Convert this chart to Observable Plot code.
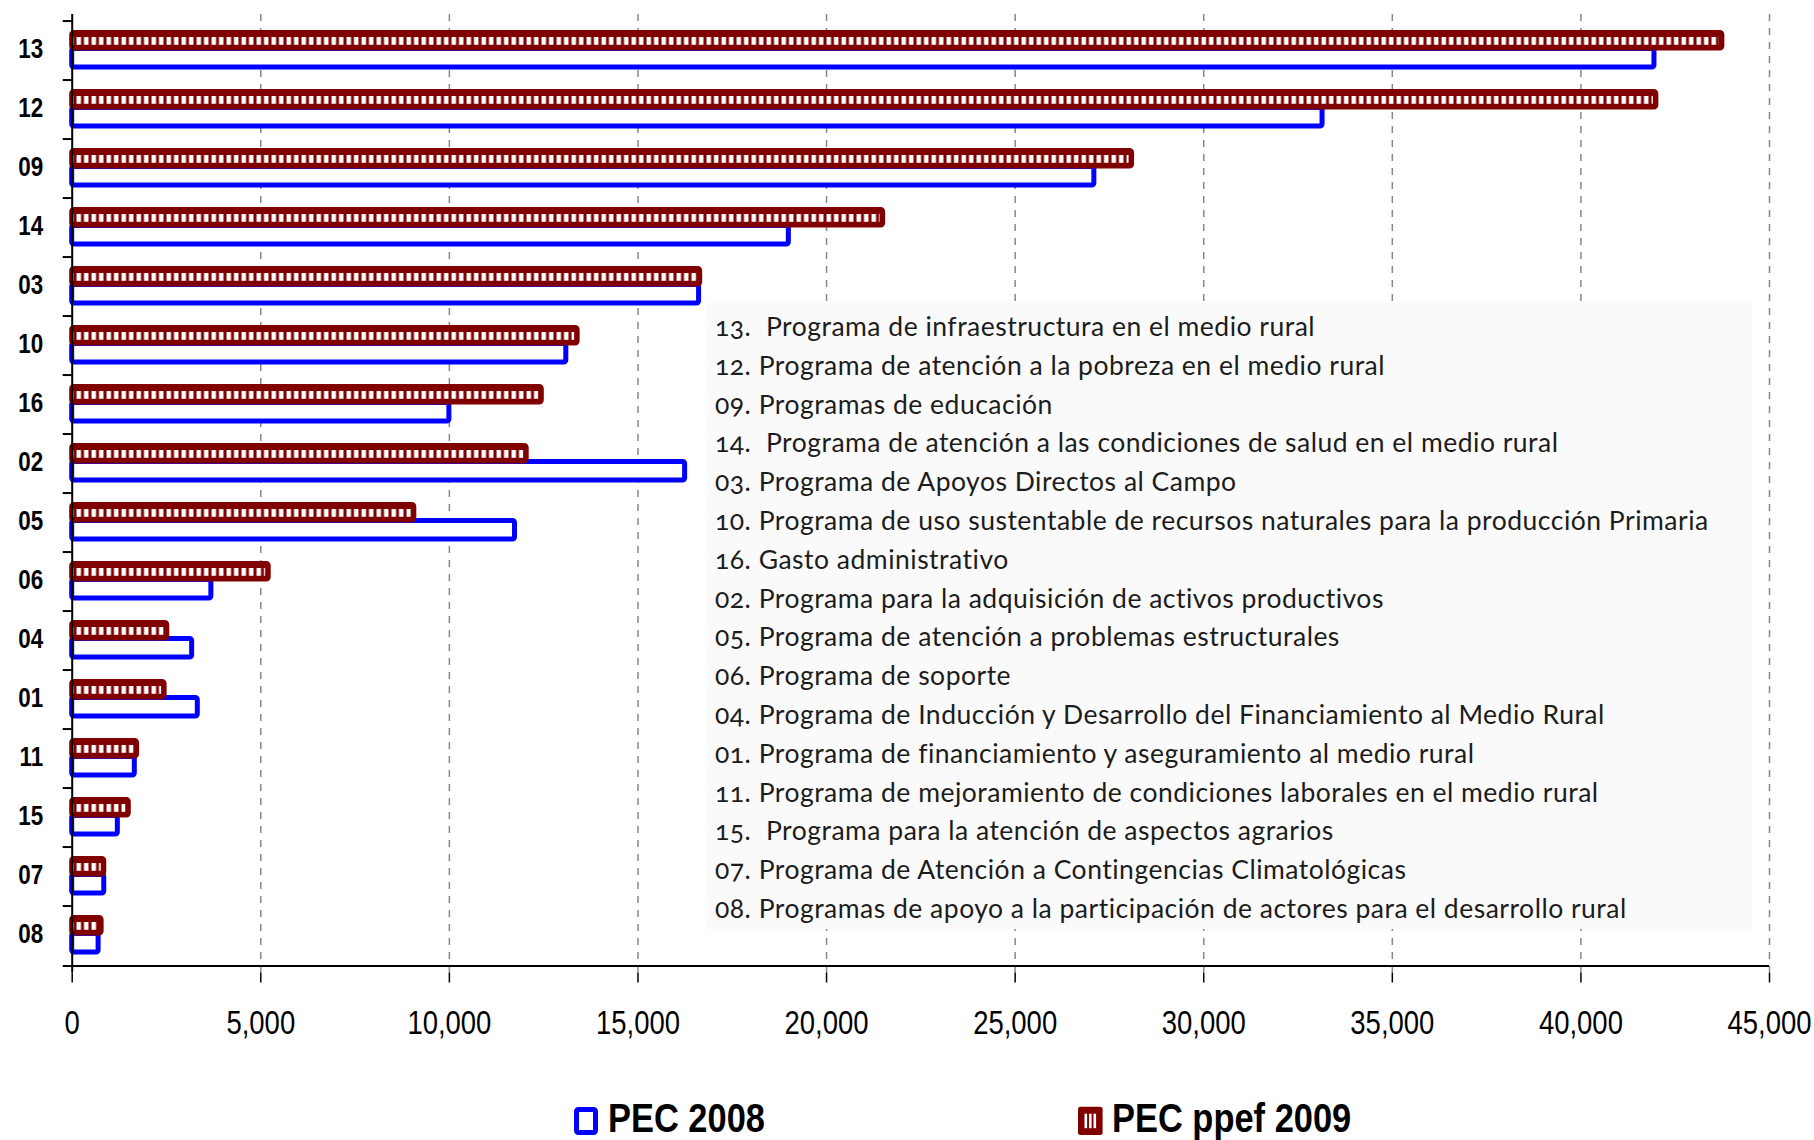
<!DOCTYPE html>
<html><head><meta charset="utf-8">
<script src="https://cdn.jsdelivr.net/npm/d3@7"></script>
<script src="https://cdn.jsdelivr.net/npm/@observablehq/plot@0.6"></script>
<style>
html,body{margin:0;padding:0;background:#fff;}
#wrap{position:relative;width:1814px;height:1140px;overflow:hidden;}
#chart svg{display:block;}
#notes{position:absolute;left:707px;top:303px;width:1045px;height:626px;background:#fafafa;box-sizing:border-box;padding:4px 0 0 8px;font-family:Lato,"Open Sans",sans-serif;font-size:26.5px;letter-spacing:0.5px;line-height:38.8px;color:#1c1c1c;white-space:pre;font-variant-numeric:oldstyle-nums;}
#legend{display:block;}
</style></head><body>
<div id="wrap"><div id="chart"></div><div id="notes"></div><svg id="legend" width="1814" height="80"></svg></div>
<script>
// ---- data ----
const categories = ["13","12","09","14","03","10","16","02","05","06","04","01","11","15","07","08"];
const pec2008  = [41950, 33150, 27100, 19000, 16620, 13100, 10000, 16250, 11740, 3690, 3180, 3330, 1660, 1210, 850, 700];
const ppef2009 = [43750, 42000, 28100, 21500, 16650, 13400, 12450, 12050, 9070, 5210, 2520, 2450, 1720, 1500, 850, 780];
const xTicks = [0, 5000, 10000, 15000, 20000, 25000, 30000, 35000, 40000, 45000];
const gridTicks = [5000, 10000, 15000, 20000, 25000, 30000, 35000, 40000, 45000];
const seriesNames = ["PEC 2008", "PEC ppef 2009"];
const notes = [
  "13.  Programa de infraestructura en el medio rural",
  "12. Programa de atención a la pobreza en el medio rural",
  "09. Programas de educación",
  "14.  Programa de atención a las condiciones de salud en el medio rural",
  "03. Programa de Apoyos Directos al Campo",
  "10. Programa de uso sustentable de recursos naturales para la producción Primaria",
  "16. Gasto administrativo",
  "02. Programa para la adquisición de activos productivos",
  "05. Programa de atención a problemas estructurales",
  "06. Programa de soporte",
  "04. Programa de Inducción y Desarrollo del Financiamiento al Medio Rural",
  "01. Programa de financiamiento y aseguramiento al medio rural",
  "11. Programa de mejoramiento de condiciones laborales en el medio rural",
  "15.  Programa para la atención de aspectos agrarios",
  "07. Programa de Atención a Contingencias Climatológicas",
  "08. Programas de apoyo a la participación de actores para el desarrollo rural"
];

const table = categories.map((c, i) => ({code: c, pec2008: pec2008[i], ppef2009: ppef2009[i]}));

const sans = "'Liberation Sans',Arial,sans-serif";
const W = 1814, H = 1060, mT = 14, mB = 87.5, mL = 71.7, mR = 45;
const bw = (H - mT - mB) / categories.length;
const BLUE = "#0000ff", RED = "#800000";

const svg = Plot.plot({
  width: W, height: H,
  marginTop: mT, marginBottom: mB, marginLeft: mL, marginRight: mR,
  style: {fontFamily: sans, fontSize: "33.5px", color: "#000", background: "#fff", overflow: "visible"},
  x: {domain: [0, 45000]},
  y: {domain: categories, padding: 0},
  marks: [
    Plot.ruleX(gridTicks, {stroke: "#888", strokeWidth: 1.5, strokeDasharray: "7,7"}),
    Plot.barX(table, {x: "pec2008", y: "code", insetTop: 27.5, insetBottom: bw - 47, fill: "#fff", stroke: BLUE, strokeWidth: 5, rx: 2}),
    Plot.barX(table, {x: "ppef2009", y: "code", insetTop: 11.5, insetBottom: bw - 28, fill: RED, stroke: RED, strokeWidth: 5, strokeLinejoin: "round", rx: 2}),
    Plot.barX(table, {x: "ppef2009", y: "code", insetTop: 16, insetBottom: bw - 24.7, insetLeft: 1.5, insetRight: 3, fill: "url(#stripes)"}),
    Plot.ruleX([0], {stroke: "#000", strokeWidth: 2}),
    Plot.ruleY(categories, {x1: 0, x2: 0, insetLeft: -9, dy: -bw / 2, stroke: "#000", strokeWidth: 2}),
    Plot.ruleY([categories[categories.length - 1]], {insetLeft: -9, dy: bw / 2, stroke: "#000", strokeWidth: 2}),
    Plot.axisY({tickSize: 0, tickPadding: 29, fontWeight: "bold", fontSize: 28, dy: -2, label: null}),
    Plot.axisX({ticks: xTicks, tickSize: 10, tickPadding: 27.5, tickFormat: d3.format(","), label: null, stroke: "#000", strokeWidth: 1.5})
  ]
});

const defs = d3.select(svg).insert("defs", ":first-child");
const pat = defs.append("pattern").attr("id", "stripes").attr("patternUnits", "userSpaceOnUse").attr("width", 7.5).attr("height", 60);
pat.append("rect").attr("x", 1.5).attr("y", 0).attr("width", 4.5).attr("height", 60).attr("fill", "#fff");

document.getElementById("chart").appendChild(svg);
document.getElementById("notes").textContent = notes.join("\n");

// condensed look (Arial Narrow-like): horizontal scale around each text's anchor point
function condense(sel, k) {
  sel.each(function () {
    const xs = this.getAttribute("x");
    const x = xs && !isNaN(+xs) ? +xs : 0;
    if (xs && !isNaN(+xs)) this.removeAttribute("x");
    const t = this.getAttribute("transform") || "";
    this.setAttribute("transform", `${t} translate(${x},0) scale(${k},1)`.trim());
  });
}
condense(d3.select(svg).selectAll('g[aria-label="x-axis tick label"] text'), 0.82);
condense(d3.select(svg).selectAll('g[aria-label="y-axis tick label"] text'), 0.8);

// legend
const lg = d3.select("#legend");
lg.append("rect").attr("x", 576.5).attr("y", 49.5).attr("width", 19).attr("height", 23).attr("rx", 2)
  .attr("fill", "#fff").attr("stroke", BLUE).attr("stroke-width", 5);
const t1 = lg.append("text").attr("x", 608).attr("y", 71.7).text(seriesNames[0])
  .attr("font-family", sans).attr("font-weight", "bold").attr("font-size", 41.5).attr("fill", "#000");
const rg = lg.append("g").attr("transform", "translate(1078,46.7)");
rg.append("rect").attr("width", 24.6).attr("height", 28.3).attr("rx", 2.5).attr("fill", RED);
[6.5, 11, 15.5].forEach(o => rg.append("rect").attr("x", o).attr("y", 7).attr("width", 2.6).attr("height", 14.5).attr("fill", "#fff"));
const t2 = lg.append("text").attr("x", 1112).attr("y", 71.7).text(seriesNames[1])
  .attr("font-family", sans).attr("font-weight", "bold").attr("font-size", 41.5).attr("fill", "#000");
condense(t1, 0.83);
condense(t2, 0.83);
</script>
</body></html>
